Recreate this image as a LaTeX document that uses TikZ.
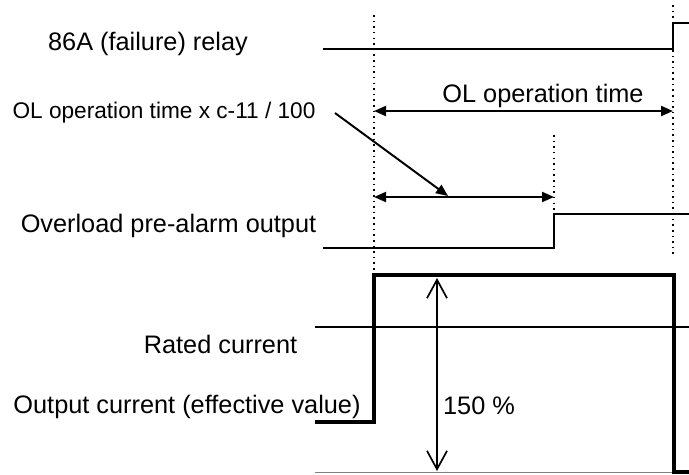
\documentclass[tikz,border=0pt]{standalone}
\usepackage{fontspec}
\setmainfont{Liberation Sans}
\usetikzlibrary{arrows.meta}
\tikzset{
  lbl/.style={anchor=base,inner sep=0pt,font=\fontsize{18}{20}\selectfont},
  smalllbl/.style={lbl,font=\fontsize{16.1}{18}\selectfont},
  sig/.style={line width=1.4pt},
  guide/.style={line width=1.1pt,dash pattern=on 1.1pt off 2.9pt},
  tip/.style={Triangle[length=0.3cm,width=0.25cm]},
  dim/.style={line width=1.4pt,{Triangle[length=0.3cm,width=0.25cm]}-{Triangle[length=0.3cm,width=0.25cm]}},
}
\begin{document}
\begin{tikzpicture}[x=0.025cm,y=-0.025cm]
\useasboundingbox (0,0) rectangle (689,474);
% 标签
\node[lbl] (relay) at (148,50.7) {86A (failure) relay};
\node[smalllbl] (ratio) at (164,118) {OL operation time x c-11 / 100};
\node[lbl] (optime) at (543,102) {OL operation time};
\node[lbl] (prealarm) at (168.5,232) {Overload pre-alarm output};
\node[lbl] (rated) at (220.5,353) {Rated current};
\node[lbl] (current) at (187,413) {Output current (effective value)};
\node[lbl] (pct) at (479,414) {150 \%};
% 时间虚线
\draw[guide] (374,15) -- (374,273);
\draw[guide] (554,135) -- (554,248);
\draw[guide] (673,5) -- (673,257);
% 尺寸箭头
\coordinate (a0) at (374,111);
\coordinate (a1) at (673,111);
\coordinate (b0) at (374,197);
\coordinate (b1) at (554,197);
\coordinate (p0) at (335,113);
\coordinate (p1) at (448,196);
\coordinate (c0) at (437,278);
\coordinate (c1) at (437,471);
\draw[dim] (a0) -- (a1);
\draw[dim] (b0) -- (b1);
\draw[line width=1.4pt,-{Triangle[length=0.3cm,width=0.25cm]}] (p0) -- (p1);
\draw[line width=1.2pt,{Straight Barb[length=0.46cm,width=0.5cm]}-{Straight Barb[length=0.46cm,width=0.5cm]}] (c0) -- (c1);
% 信号
\draw[sig] (323,49) -- (673,49) -- (673,23) -- (689,23);
\draw[sig] (323,248) -- (554,248) -- (554,214) -- (689,214);
\draw[line width=0.9pt] (315,327) -- (689,327);
\draw[line width=0.9pt,gray] (315,472.5) -- (689,472.5);
\draw[line width=2.8pt] (315,422) -- (374,422) -- (374,275) -- (674,275) -- (674,472) -- (689,472);
\end{tikzpicture}
\end{document}
